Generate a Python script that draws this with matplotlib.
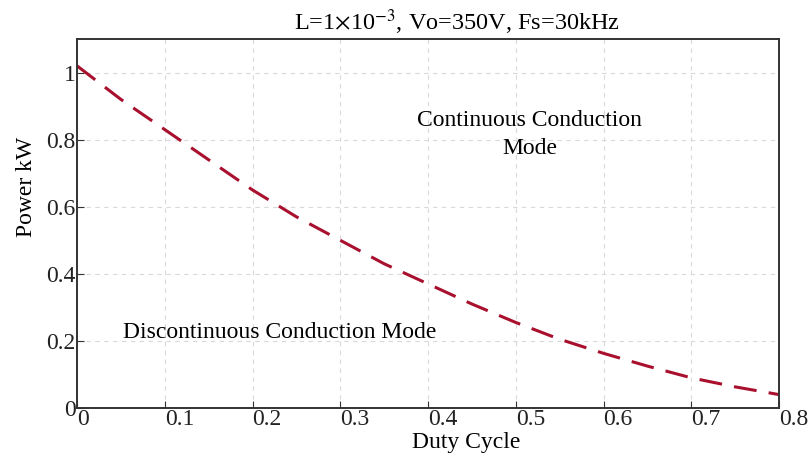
import numpy as np
import matplotlib.pyplot as plt

plt.rcParams['font.family'] = ['Liberation Serif', 'DejaVu Serif']
plt.rcParams['mathtext.fontset'] = 'stix'

# values
duty = [0, 0.05, 0.1, 0.15, 0.2, 0.25, 0.3, 0.35, 0.4, 0.45, 0.5, 0.55, 0.6, 0.65, 0.7, 0.75, 0.8]
power = [1.02, 0.92, 0.83, 0.74, 0.65, 0.57, 0.50, 0.43, 0.37, 0.31, 0.255, 0.205, 0.163, 0.125, 0.09, 0.063, 0.04]
xticks = [0, 0.1, 0.2, 0.3, 0.4, 0.5, 0.6, 0.7, 0.8]
yticks = [0, 0.2, 0.4, 0.6, 0.8, 1]

fig = plt.figure(figsize=(8.11, 4.55), dpi=100)
ax = fig.add_axes([77/811, 1-408/455, 702/811, 369/455])

ax.plot(duty, power, color='#a8102e', lw=2.2, dashes=(7.5, 4))

ax.set_xlim(0, 0.8)
ax.set_ylim(0, 1.1)
ax.set_xticks(xticks)
ax.set_xticklabels([f'{t:g}' for t in xticks])
ax.set_yticks(yticks)
ax.set_yticklabels([f'{t:g}' for t in yticks])
for lab in ax.get_xticklabels():
    lab.set_horizontalalignment('left')
ax.tick_params(direction='in', length=5, labelsize=17, colors='#333333',
               labelcolor='#222222', pad=1)
ax.grid(True, ls=(0, (4, 4)), color='#d9d9d9', lw=0.8)
for s in ax.spines.values():
    s.set_color('#333333')
    s.set_linewidth(1.4)

ax.set_title(r'L=1$\times$10$^{-3}$, Vo=350V, Fs=30kHz', fontsize=17.5, x=0.542, y=1.0, pad=6)
ax.set_xlabel('Duty Cycle', fontsize=17)
ax.xaxis.set_label_coords(0.554, -0.064)
ax.set_ylabel('Power kW', fontsize=17)
ax.yaxis.set_label_coords(-0.057, 0.6)

ax.text(0.516, 0.815, 'Continuous Conduction\nMode', fontsize=17, ha='center', va='center',
        linespacing=1.4)
ax.text(0.231, 0.225, 'Discontinuous Conduction Mode', fontsize=17, ha='center', va='center')

fig.savefig('out.png', dpi=100)
